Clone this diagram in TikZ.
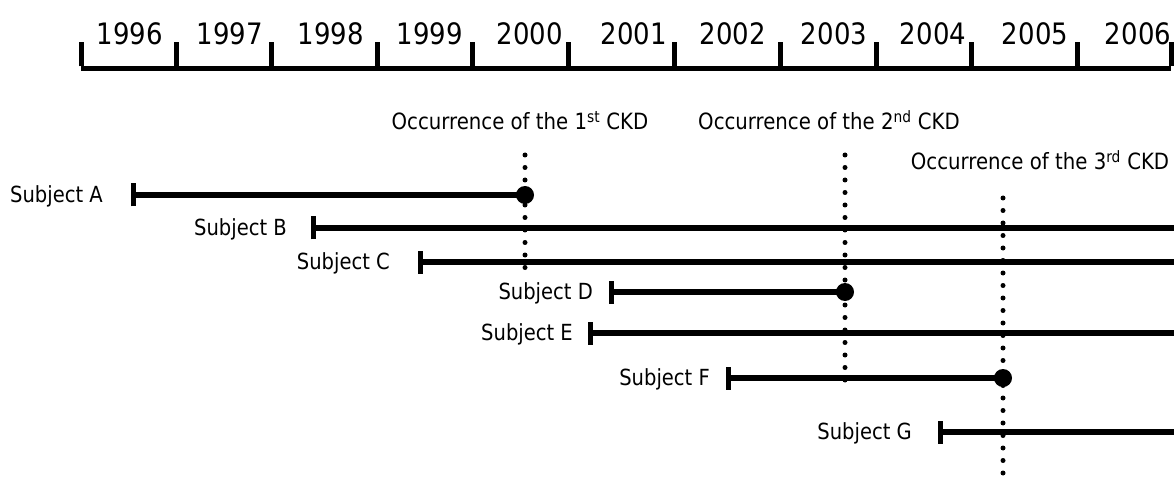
\documentclass[tikz,border=0pt]{standalone}
\usepackage{fontspec}
\setmainfont{DejaVu Sans}[FakeStretch=0.88]
\begin{document}
\begin{tikzpicture}[x=1pt,y=-1pt,
  year/.style={font=\fontsize{29.5}{29.5}\selectfont, inner sep=0pt},
  subj/.style={font=\fontsize{22.2}{22}\selectfont, inner sep=0pt, anchor=base east},
  occ/.style={font=\fontsize{22.4}{22}\selectfont, inner sep=0pt, anchor=base},
  axisline/.style={line width=5pt},
  spanline/.style={line width=5.5pt},
  startbar/.style={line width=5pt},
  event/.style={circle, fill=black, inner sep=0pt, minimum size=18pt},
  dotline/.style={line width=5pt, line cap=round, dash pattern=on 0pt off 12.5pt}]
\useasboundingbox (0,0) rectangle (1174,486);

% axis
\foreach \i/\x in {0/81,1/176,2/271,3/377,4/472,5/568,6/674,7/780,8/876,9/971,10/1077,11/1171}
  \coordinate (t\i) at (\x,69);
\draw[axisline] (t0) -- (t11);
\foreach \i in {0,...,11}
  \draw[axisline] ([yshift=2.5pt]t\i) -- ++(0,-24);

\foreach \y/\x in {1996/130,1997/230,1998/331,1999/430,2000/530,2001/634,2002/733,2003/834,2004/933,2005/1035,2006/1138}
  \node[year] (y\y) at (\x,33.5) {\y};

% event labels
\node[occ] (o1) at (520,130) {Occurrence of the 1\textsuperscript{st} CKD};
\node[occ] (o2) at (829,130) {Occurrence of the 2\textsuperscript{nd} CKD};
\node[occ] (o3) at (1040,170) {Occurrence of the 3\textsuperscript{rd} CKD};

% dotted event lines
\coordinate (d1t) at (525,155);  \coordinate (d1b) at (525,268);
\coordinate (d2t) at (845,155);  \coordinate (d2b) at (845,392);
\coordinate (d3t) at (1003,198); \coordinate (d3b) at (1003,481);
\draw[dotline] (d1t) -- (d1b);
\draw[dotline] (d2t) -- (d2b);
\draw[dotline] (d3t) -- (d3b);

% subjects
\foreach \n/\lx/\sx/\ex/\y in {A/103/133/525/195, B/287/313/1174/228, C/390/420/1174/262,
  D/593/611/845/292, E/573/590/1174/333, F/710/728/1003/378, G/912/940/1174/432}{
  \node[subj] (l\n) at (\lx,\y+7.5) {Subject \n};
  \coordinate (s\n) at (\sx,\y);
  \coordinate (e\n) at (\ex,\y);
  \draw[startbar] ([yshift=-11.5pt]s\n) -- ([yshift=11.5pt]s\n);
  \draw[spanline] (s\n) -- (e\n);
}
\node[event] (evA) at (eA) {};
\node[event] (evD) at (eD) {};
\node[event] (evF) at (eF) {};
\end{tikzpicture}
\end{document}
